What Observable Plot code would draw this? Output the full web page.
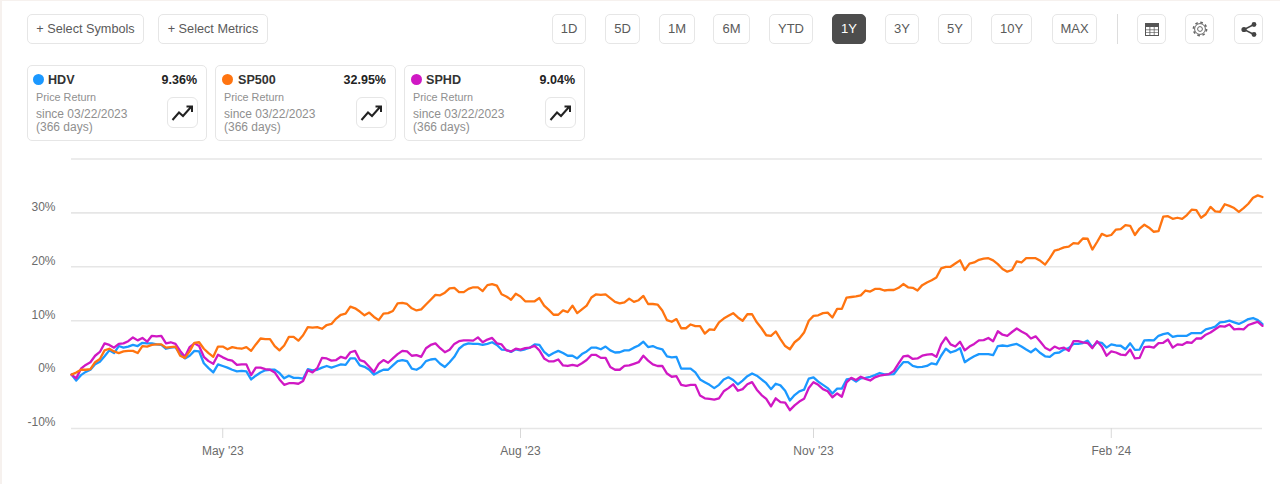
<!DOCTYPE html>
<html><head><meta charset="utf-8">
<script src="https://cdn.jsdelivr.net/npm/d3@7"></script>
<script src="https://cdn.jsdelivr.net/npm/@observablehq/plot@0.6"></script>
<style>
html,body{margin:0;padding:0;background:#fff;width:1280px;height:484px;overflow:hidden;font-family:"Liberation Sans",Arial,sans-serif}
.edge{position:absolute;background:#f6f1ee}
.b{position:absolute;top:14px;height:30px;box-sizing:border-box;border:1px solid #e6e6e6;border-radius:5px;background:#fff;color:#5a5a5a;font-size:13px;line-height:28px;text-align:center;white-space:nowrap}
.b.sel{font-size:12.7px}
.b.on{background:#4d4d4d;color:#fff;border-color:#4d4d4d}
.card{position:absolute;top:65px;height:76px;box-sizing:border-box;border:1px solid #e6e6e6;border-radius:5px;background:#fff}
.dot{position:absolute;left:5px;top:8px;width:11px;height:11px;border-radius:50%}
.nm{position:absolute;left:20px;top:6px;font-size:12.6px;font-weight:bold;color:#333;line-height:16px}
.pc{position:absolute;right:9px;top:6px;font-size:12.5px;font-weight:bold;color:#222;line-height:16px}
.s{position:absolute;left:8px;font-size:12px;color:#8f8f8f;line-height:14px;white-space:nowrap}
.s.pr{font-size:10.8px}
.tr{position:absolute;right:8px;top:31px;width:31px;height:31px;box-sizing:border-box;border:1px solid #e6e6e6;border-radius:6px;background:#fff}
#chart{position:absolute;left:0;top:150px}
#chart svg{display:block}
</style></head><body>
<div class="edge" style="left:0;top:0;width:1280px;height:1px"></div>
<div class="edge" style="left:0;top:0;width:2px;height:484px"></div>

<div class="b sel" style="left:27px;width:117px">+ Select Symbols</div>
<div class="b sel" style="left:158px;width:110px">+ Select Metrics</div>
<div class="b" style="left:552px;width:34px">1D</div>
<div class="b" style="left:605px;width:35px">5D</div>
<div class="b" style="left:659px;width:36px">1M</div>
<div class="b" style="left:713px;width:37px">6M</div>
<div class="b" style="left:769px;width:44px">YTD</div>
<div class="b on" style="left:832px;width:34px">1Y</div>
<div class="b" style="left:885px;width:34px">3Y</div>
<div class="b" style="left:938px;width:34px">5Y</div>
<div class="b" style="left:991px;width:41px">10Y</div>
<div class="b" style="left:1052px;width:45px">MAX</div>
<div style="position:absolute;left:1117px;top:14px;width:1px;height:30px;background:#ddd"></div>
<div class="b" style="left:1137px;width:29px"><svg width="14" height="13" viewBox="0 0 14 13" style="position:absolute;left:7px;top:8px"><rect x="0" y="0" width="14" height="13" fill="#555"/><g fill="#fff"><rect x="1" y="4" width="3.5" height="2.5"/><rect x="5.3" y="4" width="3.5" height="2.5"/><rect x="9.5" y="4" width="3.5" height="2.5"/><rect x="1" y="7.2" width="3.5" height="2.2"/><rect x="5.3" y="7.2" width="3.5" height="2.2"/><rect x="9.5" y="7.2" width="3.5" height="2.2"/><rect x="1" y="10" width="3.5" height="2"/><rect x="5.3" y="10" width="3.5" height="2"/><rect x="9.5" y="10" width="3.5" height="2"/></g></svg></div>
<div class="b" style="left:1185px;width:29px"><svg width="16" height="16" viewBox="0 0 16 16" style="position:absolute;left:6px;top:6px"><circle cx="8" cy="8" r="2.4" fill="none" stroke="#666"/><circle cx="8" cy="8" r="5.4" fill="none" stroke="#666" stroke-width="1"/><circle cx="8" cy="8" r="6.6" fill="none" stroke="#666" stroke-width="1.6" stroke-dasharray="2.6 2.6"/></svg></div>
<div class="b" style="left:1234px;width:29px"><svg width="16" height="15" viewBox="0 0 16 15" style="position:absolute;left:6px;top:7px"><path d="M13 2.5L3 7.5L13 12.5" fill="none" stroke="#444" stroke-width="1.5"/><circle cx="13" cy="2.5" r="2.4" fill="#444"/><circle cx="3" cy="7.5" r="2.6" fill="#444"/><circle cx="13" cy="12.5" r="2.4" fill="#444"/></svg></div>

<div class="card" style="left:27px;width:180px">
  <div class="dot" style="background:#1b98ff"></div><div class="nm">HDV</div><div class="pc">9.36%</div>
  <div class="s pr" style="top:24px">Price Return</div><div class="s" style="top:41px">since 03/22/2023</div><div class="s" style="top:54px">(366 days)</div>
  <div class="tr"><svg width="24" height="18" viewBox="0 0 24 18" style="position:absolute;left:3px;top:6px"><path d="M1.5 16L8 8.5L12 12L20 3M15.5 2.5H21V8" fill="none" stroke="#222" stroke-width="2"/></svg></div>
</div>
<div class="card" style="left:215px;width:181px">
  <div class="dot" style="background:#ff7410;left:6px"></div><div class="nm" style="left:22px">SP500</div><div class="pc">32.95%</div>
  <div class="s pr" style="top:24px">Price Return</div><div class="s" style="top:41px">since 03/22/2023</div><div class="s" style="top:54px">(366 days)</div>
  <div class="tr"><svg width="24" height="18" viewBox="0 0 24 18" style="position:absolute;left:3px;top:6px"><path d="M1.5 16L8 8.5L12 12L20 3M15.5 2.5H21V8" fill="none" stroke="#222" stroke-width="2"/></svg></div>
</div>
<div class="card" style="left:404px;width:181px">
  <div class="dot" style="background:#d018c4;left:6px"></div><div class="nm" style="left:21px">SPHD</div><div class="pc">9.04%</div>
  <div class="s pr" style="top:24px">Price Return</div><div class="s" style="top:41px">since 03/22/2023</div><div class="s" style="top:54px">(366 days)</div>
  <div class="tr"><svg width="24" height="18" viewBox="0 0 24 18" style="position:absolute;left:3px;top:6px"><path d="M1.5 16L8 8.5L12 12L20 3M15.5 2.5H21V8" fill="none" stroke="#222" stroke-width="2"/></svg></div>
</div>
<div id="chart"></div>
<script>
const sp500 = [0,.4,.9,.9,1,2.3,2.9,4.5,4.8,4.3,4,4.3,4.4,4.4,4,5.3,5.2,5.5,5.6,5.6,5,5.1,5.2,3.5,3.1,4.3,5.9,6,4.8,4,3.3,5.2,5.2,4.7,5.1,4.9,4.8,5.1,4.4,5.6,6.7,6.6,6.6,5.3,4.5,5.4,7,7,6.3,7.3,8.8,8.7,8.8,8.5,9.2,9.4,10.4,
11.1,11.3,12.6,12.3,11.7,11,11.5,10.7,10.1,11.3,11.4,11.8,13.2,13.3,13.1,12.3,11.9,12.1,13,13.9,14.8,14.7,15.2,16,16.1,15.3,15.3,15.9,16.2,16.2,15.5,16.6,16.8,16.5,14.9,14.5,13.9,15,14.5,13.6,13.6,13.6,14.2,12.8,12,11.1,11.1,11.9,11.6,12.8,11.4,12.1,12.8,14.3,14.9,14.8,14.9,14.2,13.5,13.2,13.4,14.1,13.5,
13.8,14.6,13.1,13.1,13,11.9,10.1,9.8,10.3,8.6,8.6,9.3,9,9,7.6,8.4,8.3,9.7,10.4,10.9,11.4,10.6,10,11.2,11.2,9.7,8.6,7.3,7.2,8,6.6,5.3,4.7,6,6.7,7.8,10,10.9,11,11.4,11.5,10.6,12.2,12.2,14.3,14.4,14.5,14.7,15.6,15.4,15.9,15.9,15.6,15.7,15.7,16.1,16.8,16.2,16.1,15.6,16.6,17.1,17.5,18,19.7,20,20,20.6,21.2,
19.4,20.6,20.8,21.3,21.5,21.6,21.2,20.5,19.6,19.1,19.4,21,20.8,21.6,21.6,21.6,21.1,20.4,21.6,23,23.25,23.6,23.75,24.4,24.3,25.25,25.2,23.2,24.6,26.1,25.7,25.9,26.9,27,27.75,27.6,25.9,27.1,27.8,27.25,26.5,26.6,29.3,29.4,28.9,29.1,28.9,29.6,30.6,30.5,29.1,29.75,31.1,30.3,30.2,31.6,31.3,30.9,30.2,30.9,31.7,32.8,33.25,32.95];
const hdv = [0,-1.1,-.1,.5,.9,1.9,2.4,3.4,4.5,4,5.3,5,5.2,5.5,5.3,5.9,5.8,5.8,5.6,5.5,4.8,5,5.1,3.8,3,3.5,4.4,4.3,2.1,1.2,.4,1.9,1.6,1.3,.9,.6,.7,.6,-.9,-.2,.4,.8,.9,.9,.3,-.7,-.2,-.6,-.6,-.75,1,.8,.9,1.3,1.6,1.3,1.6,
1.9,1.8,3,3,1.7,1.45,.9,0,.5,.9,.9,1.7,2.5,2.7,2.5,1.1,.9,1.4,2.5,2.8,2.9,2,1.4,2.3,3.3,4.8,5.5,5.8,5.7,5.7,5.5,5.7,6,5.5,4.65,4.6,4.2,4.7,4.5,4.7,5,5.6,5.5,4.2,3.5,4,4.4,4,3.5,3.5,3,3.8,4.3,5,5,4.7,5.2,4.5,4.1,4.15,4.5,4.5,5,
5.4,6.1,5.1,5.3,4.9,4.7,3.4,3.2,3.3,1.1,1.1,1.1,.4,-.9,-1.4,-1.9,-2.5,-1.9,-.9,-.5,-1,-1.8,-1.1,-.3,.2,-.2,-.9,-1.6,-2.7,-1.7,-2,-3,-4.8,-3.8,-3.1,-2.8,-.75,-.5,-1.3,-1.9,-2.5,-3.5,-2.6,-2.6,-.9,-.75,-1.3,-.7,-.6,-.4,-.1,.3,.05,.05,.1,1.25,2.3,2.3,1.6,1.4,1.45,1.6,2.1,1.9,3.5,4.8,4.1,4.4,4.9,
2.3,2.9,3.4,3.8,3.8,3.8,3.6,5.3,5.4,5.3,5.5,5.7,5.2,4.65,4.15,4.8,4,3.4,3.3,4,4.1,4.65,4.9,5.7,5.7,5.85,6.3,5.1,6,5.9,5,5.6,5.4,5.35,4.7,5.8,4.6,4.65,6.35,6.4,6.35,7.2,7.5,7.7,7,7.2,7.2,7.2,7.7,7.7,7.7,8.4,8.6,8.9,9.7,9.8,10,9.7,9.4,9.8,10.3,10.5,10.1,9.36];
const sphd = [0,-.7,1.1,1.8,2.3,3.5,4.2,5.8,5.5,5,5.7,5.8,6.2,6.9,6.35,6.8,6.1,7.2,7.1,7.2,5.8,6,5.7,4.4,3.3,5.1,5.8,5.3,3.3,2.5,2,3.7,3.2,2.8,2.6,1.8,1.9,1.9,-.1,1.3,1.3,1,.9,.4,-.9,-1.9,-1.6,-1.6,-1.7,-1.2,.8,.4,1.2,3.1,3,2.6,2.7,
3.3,3,4.15,4.4,2.7,2.4,1.45,.5,2,2.7,2.2,3,3.8,4.4,4.3,3.5,3.6,3.3,4.9,5.5,5.8,4.9,4.15,4.6,5.7,6.2,6.35,6.35,6.3,6.9,6,6.5,6.8,5.8,5.6,4.5,4.3,4.8,4.65,4.9,5,5.35,4.5,3,2.45,2.45,2.8,1.7,1.6,1.8,1.6,2.1,2.7,3.65,3.65,3.1,3.1,1.4,.9,.9,1.6,1.7,2,
2.3,3.5,2.6,1.9,1.6,1.6,.2,-.4,-.3,-1.9,-2.1,-1.9,-1.9,-3.9,-4.4,-4.5,-4.65,-4.4,-3.1,-2.5,-1.8,-3,-2.7,-1.8,-1.4,-2.8,-3.8,-4.5,-5.9,-4.4,-5.1,-5.2,-6.6,-5.7,-5,-4.5,-2.5,-1.4,-1.9,-2.7,-3.1,-4.2,-3.5,-4.1,-1.45,-.6,-1,-.4,-.8,-1.1,-.5,-.2,-.05,.1,.7,2.1,3.4,3.5,2.9,3,3.5,3.7,3.8,3.3,5.6,6.9,5.6,5.2,6.1,
4.5,5.2,5.7,6.35,6.4,6.8,6.2,8.05,7.4,7.2,7.9,8.55,8,7.55,6.7,7.1,6.1,5,4.5,5.2,4.8,5,4.4,6.2,6.2,6,5.85,4.9,6.2,5.2,3.5,4.3,4.1,3.7,3.6,4.65,3,3.1,5.1,5.2,5,5.85,5.9,6.5,5,5.6,5.5,6,5.9,6.7,6.7,7.4,7.8,8.4,9,8.9,9.3,8.4,8.5,8.4,9.2,9.5,9.8,9.04];
const tickDays = [32, 95, 157, 220];
const tickLabels = ["May '23", "Aug '23", "Nov '23", "Feb '24"];
const gridValues = [-10, 0, 10, 20, 30, 40];
const yTickValues = [-10, 0, 10, 20, 30];
const colors = {HDV:"#1b98ff", SPHD:"#d018c4", SP500:"#ff7410"};

const lineOf = (arr, name) => Plot.line(arr.map((v,i)=>({i,v})), {x:"i", y:"v", stroke:colors[name], strokeWidth:2.3, strokeLinejoin:"round", curve:"linear"});
const n = sp500.length;
const chart = Plot.plot({
  width:1280, height:334,
  marginLeft:71, marginRight:18, marginTop:8.5, marginBottom:56,
  style:{background:"transparent", fontFamily:'"Liberation Sans",Arial,sans-serif', fontSize:"12px", color:"#666"},
  x:{domain:[0,n-1], label:null},
  y:{domain:[-10,40], label:null},
  marks:[
    Plot.ruleY(gridValues, {stroke:"#e6e6e6", strokeWidth:1.6}),
    Plot.axisY({ticks:yTickValues, tickSize:0, tickPadding:16, dy:-6, tickFormat:d=>d+"%", label:null, fill:"#6b6b6b", fontSize:12}),
    Plot.axisX({ticks:tickDays, tickSize:10, tickPadding:8, stroke:"#d8d8d8", tickFormat:d=>tickLabels[tickDays.indexOf(d)], label:null, fill:"#6b6b6b", fontSize:12}),
    lineOf(hdv,"HDV"),
    lineOf(sphd,"SPHD"),
    lineOf(sp500,"SP500")
  ]
});
document.getElementById("chart").appendChild(chart);
</script>
</body></html>
